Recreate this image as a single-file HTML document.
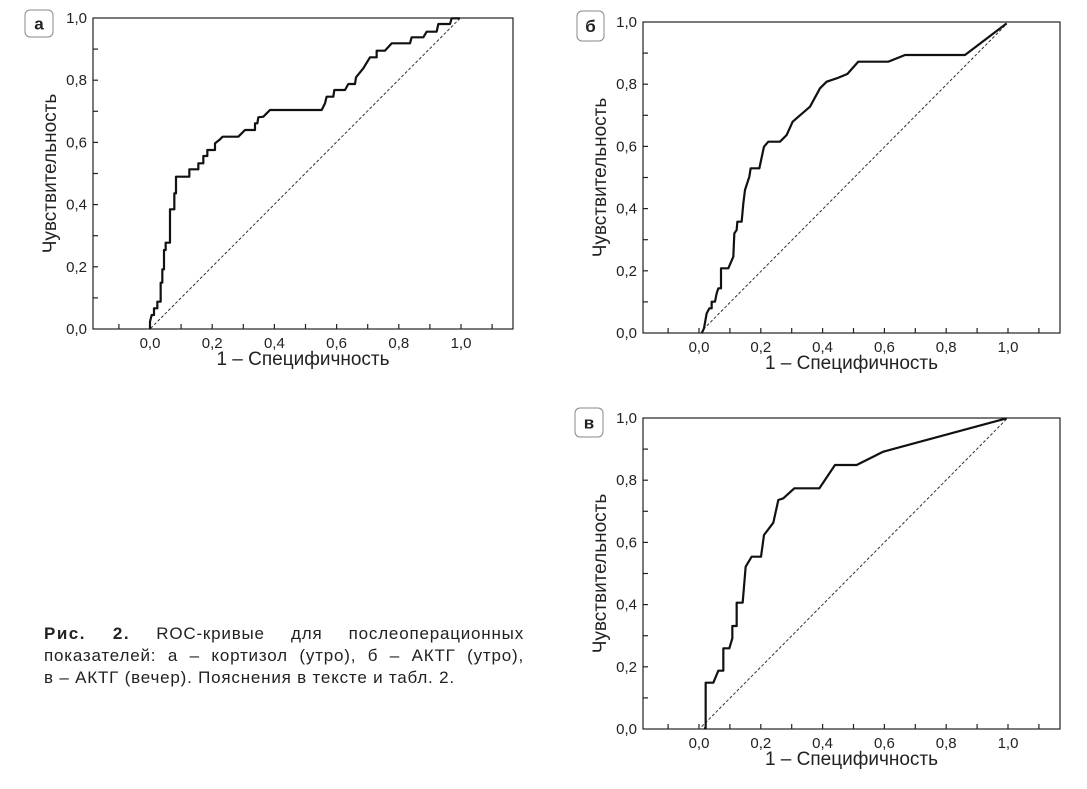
<!DOCTYPE html>
<html><head><meta charset="utf-8"><style>
html,body{margin:0;padding:0;background:#fff;}
svg{display:block;font-family:"Liberation Sans",Arial,sans-serif;}
.cap{position:absolute;left:44px;top:623px;width:480px;font-family:"Liberation Sans",sans-serif;font-size:17px;letter-spacing:0.8px;line-height:22px;color:#222;}
.cap div{text-align:justify;text-align-last:justify;white-space:nowrap;}
.cap div.l{text-align-last:left;}
</style></head><body>
<svg id="s" width="1087" height="789" xmlns="http://www.w3.org/2000/svg"></svg>
<div class="cap"><div><b style="letter-spacing:1.5px">Рис. 2.</b> ROC-кривые для послеоперационных</div><div>показателей: а – кортизол (утро), б – АКТГ (утро),</div><div class="l">в – АКТГ (вечер). Пояснения в тексте и табл. 2.</div></div>
<script>
const NS="http://www.w3.org/2000/svg";const s=document.getElementById('s');
function el(t,a,txt){const e=document.createElementNS(NS,t);for(const k in a)e.setAttribute(k,a[k]);if(txt!==undefined)e.textContent=txt;s.appendChild(e);return e;}
function panel(o){
 const {L,T,R,B,x0,x1,label,bx,by,bw,bh,ox,oy,pts,diag}=o;
 el('rect',{x:bx,y:by,width:bw,height:bh,rx:5,fill:'#fff',stroke:'#888','stroke-width':1});
 el('text',{x:bx+bw/2,y:by+bh/2+6,'text-anchor':'middle','font-size':17,'font-weight':'bold',fill:'#222'},label);
 el('rect',{x:L,y:T,width:R-L,height:B-T,fill:'none',stroke:'#222','stroke-width':1.2});
 const u=(x1-x0)/10, uy=(B-T)/10;
 for(let k=-1;k<=11;k++){const x=x0+u*k;if(x>L&&x<R)el('line',{x1:x,y1:B,x2:x,y2:B-5,stroke:'#222','stroke-width':1.2});}
 for(let k=1;k<10;k++){const y=T+uy*k;el('line',{x1:L,y1:y,x2:L+5,y2:y,stroke:'#222','stroke-width':1.2});}
 for(let k=0;k<=5;k++){const v=(k*0.2).toFixed(1).replace('.',',');
  el('text',{x:x0+u*2*k,y:B+19,'text-anchor':'middle','font-size':15,fill:'#222'},v);
  el('text',{x:L-6,y:B-uy*2*k+5,'text-anchor':'end','font-size':15,fill:'#222'},v);}
 el('text',{x:(L+R)/2,y:B+36,'text-anchor':'middle','font-size':19,fill:'#222'},'1 – Специфичность');
 const yc=(T+B)/2, xl=L-37;
 el('text',{x:xl,y:yc,'text-anchor':'middle','font-size':19,fill:'#222',transform:`rotate(-90 ${xl} ${yc})`},'Чувствительность');
 const g=el('g',{transform:`translate(${ox},${oy}) scale(0.33333)`});
 const d=document.createElementNS(NS,'line');
 for(const [k,v] of Object.entries({x1:diag[0],y1:diag[1],x2:diag[2],y2:diag[3],stroke:'#333','stroke-width':1,'stroke-dasharray':'3 2','vector-effect':'non-scaling-stroke'}))d.setAttribute(k,v);
 g.appendChild(d);
 const p=document.createElementNS(NS,'polyline');
 p.setAttribute('points',pts.map(q=>q.join(',')).join(' '));
 p.setAttribute('fill','none');p.setAttribute('stroke','#111');p.setAttribute('stroke-width','2.2');p.setAttribute('vector-effect','non-scaling-stroke');p.setAttribute('stroke-linejoin','round');
 g.appendChild(p);
}
panel({L:93,T:18,R:513,B:329,x0:150,x1:461,label:'а',bx:25,by:10,bw:28,bh:27,ox:0,oy:0,diag:[452,985,1378,57],
pts:[[450,988],[450,965],[455,945],[462,945],[462,925],[472,925],[472,905],[482,905],[482,848],[487,848],[487,808],[492,808],[492,750],[497,750],[497,728],[510,728],[510,628],[523,628],[523,580],[528,580],[528,530],[568,530],[568,508],[595,508],[595,490],[610,490],[610,468],[622,468],[622,450],[645,450],[645,430],[660,418],[668,410],[715,410],[735,390],[765,390],[765,370],[772,370],[775,352],[790,350],[810,330],[965,330],[975,310],[980,290],[1000,290],[1003,270],[1035,270],[1045,252],[1065,252],[1068,232],[1090,205],[1110,172],[1130,172],[1130,152],[1155,152],[1175,130],[1230,130],[1235,112],[1270,112],[1280,95],[1310,95],[1315,72],[1350,72],[1355,55],[1380,55]]});
panel({L:643,T:22,R:1060,B:333,x0:699,x1:1008,label:'б',bx:577,by:11,bw:27,bh:30,ox:560,oy:0,diag:[430,988,1340,72],
pts:[[425,1000],[432,985],[440,940],[448,925],[455,925],[455,905],[465,905],[470,880],[475,865],[483,865],[483,805],[505,805],[520,770],[523,700],[530,690],[532,665],[545,665],[550,610],[555,570],[568,530],[572,505],[598,505],[612,440],[625,425],[660,425],[680,405],[698,365],[750,320],[780,265],[800,245],[830,235],[862,222],[895,185],[985,185],[1035,165],[1215,165],[1340,70]]});
panel({L:643,T:418,R:1060,B:729,x0:699,x1:1008,label:'в',bx:575,by:408,bw:28,bh:29,ox:560,oy:400,diag:[425,980,1340,57],
pts:[[432,985],[437,985],[437,848],[460,848],[475,812],[490,812],[490,745],[508,745],[517,715],[517,678],[530,678],[530,608],[548,608],[557,500],[575,470],[603,470],[612,405],[640,368],[655,300],[670,295],[703,265],[778,265],[825,195],[890,195],[970,155],[1340,55]]});
</script>
</body></html>
